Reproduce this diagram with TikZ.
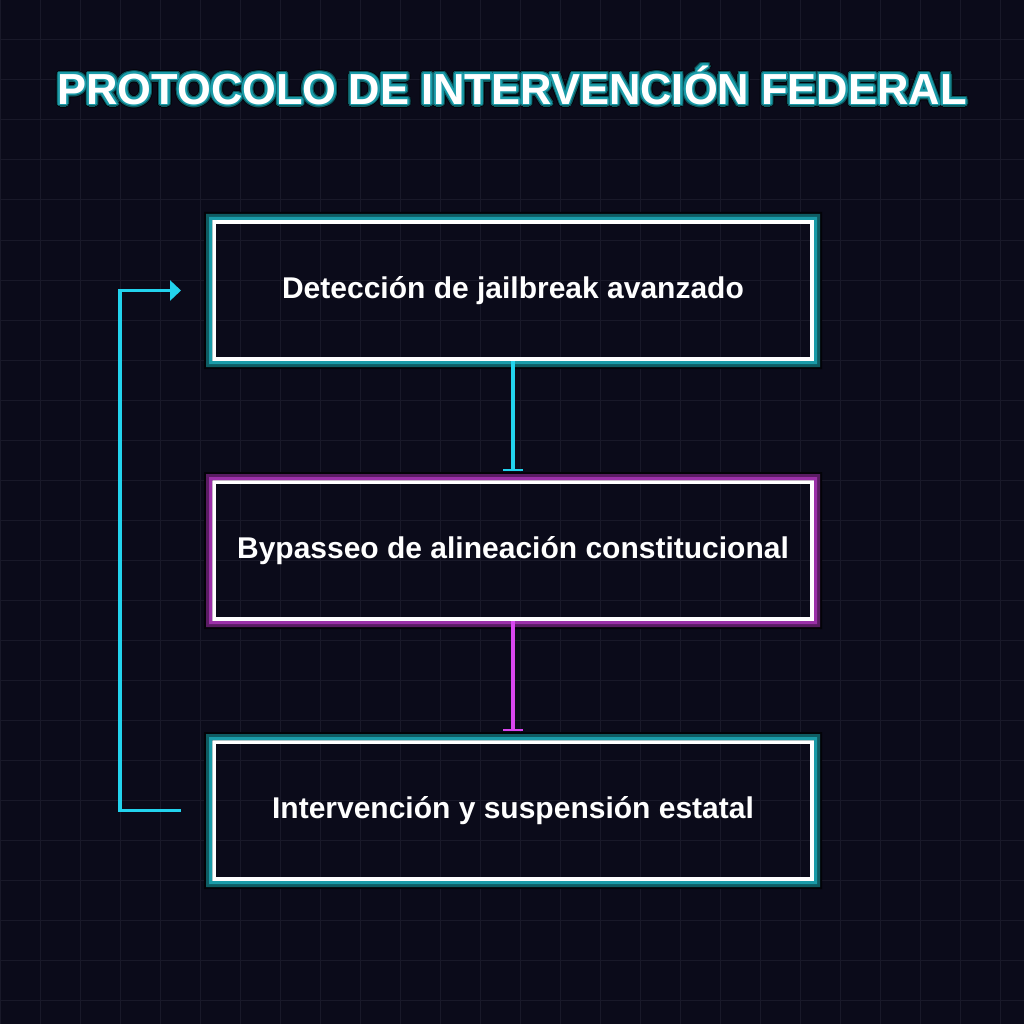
\documentclass[tikz,border=0pt]{standalone}
\usepackage{fontspec}
\setmainfont{Liberation Sans}
\usetikzlibrary{arrows.meta,calc}
\definecolor{bg}{HTML}{0B0B1A}
\definecolor{gridc}{HTML}{191929}
\definecolor{cyanl}{HTML}{22D3EE}
\definecolor{magl}{HTML}{D946EF}
\definecolor{teal1}{HTML}{1A9BA8}
\definecolor{teal2}{HTML}{0E5C63}
\definecolor{mag1}{HTML}{9B30A8}
\definecolor{mag2}{HTML}{5A1C63}
\definecolor{shadowc}{HTML}{030308}
\newcommand\glowring[3]{%
  \fill[shadowc,even odd rule] ([shift={(-8pt,8pt)}]#1.north west) rectangle ([shift={(8pt,-8pt)}]#1.south east) (#1.north west) rectangle (#1.south east);
  \fill[#2,even odd rule] ([shift={(-6pt,6pt)}]#1.north west) rectangle ([shift={(6pt,-6pt)}]#1.south east) (#1.north west) rectangle (#1.south east);
  \fill[#3,even odd rule] ([shift={(-3pt,3pt)}]#1.north west) rectangle ([shift={(3pt,-3pt)}]#1.south east) (#1.north west) rectangle (#1.south east);
}
\begin{document}
\begin{tikzpicture}[x=1pt,y=-1pt,
  box/.style={draw=white,line width=4pt,minimum width=598pt,minimum height=137pt,inner sep=0pt,
    font=\bfseries\fontsize{30}{36}\selectfont,text=white},
  titlefont/.style={font=\bfseries\fontsize{43.5}{50}\selectfont},
  conn/.style={line width=3.5pt}]
\useasboundingbox (0,0) rectangle (1024,1024);
\fill[bg] (0,0) rectangle (1024,1024);
\foreach \i in {0,40,...,1000} {
  \draw[gridc,line width=1pt] (\i,0) -- (\i,1024);
  \draw[gridc,line width=1pt] (0,\i) -- (1024,\i);
}
% title with outline glow
\foreach \a [count=\k] in {0,22.5,...,337.5}
  \node[titlefont,text=shadowc] (tgA\k) at ([shift={(\a:4pt)}]512,85) {PROTOCOLO DE INTERVENCIÓN FEDERAL};
\foreach \a [count=\k] in {0,22.5,...,337.5}
  \node[titlefont,text=teal2] (tgB\k) at ([shift={(\a:3pt)}]512,85) {PROTOCOLO DE INTERVENCIÓN FEDERAL};
\foreach \a [count=\k] in {0,22.5,...,337.5}
  \node[titlefont,text=teal1] (tgC\k) at ([shift={(\a:1.8pt)}]512,85) {PROTOCOLO DE INTERVENCIÓN FEDERAL};
\node[titlefont,text=white] (title) at (512,85) {PROTOCOLO DE INTERVENCIÓN FEDERAL};
% boxes
\node[box] (b1) at (513,290.5) {Detección de jailbreak avanzado};
\node[box] (b2) at (513,550.5) {Bypasseo de alineación constitucional};
\node[box] (b3) at (513,810.5) {Intervención y suspensión estatal};
\glowring{b1}{teal2}{teal1}
\glowring{b2}{mag2}{mag1}
\glowring{b3}{teal2}{teal1}
% connectors
\draw[conn,cyanl,-{Bar[width=20pt,line width=2.5pt]},shorten >=9pt] (b1.south) -- (b2.north);
\draw[conn,magl,-{Bar[width=20pt,line width=2.5pt]},shorten >=9pt] (b2.south) -- (b3.north);
\draw[conn,cyanl,-{Triangle[length=11pt,width=20pt]},shorten <=31pt,shorten >=31pt] (b3.west) -- ++(-92,0) |- (b1.west);
\end{tikzpicture}
\end{document}
